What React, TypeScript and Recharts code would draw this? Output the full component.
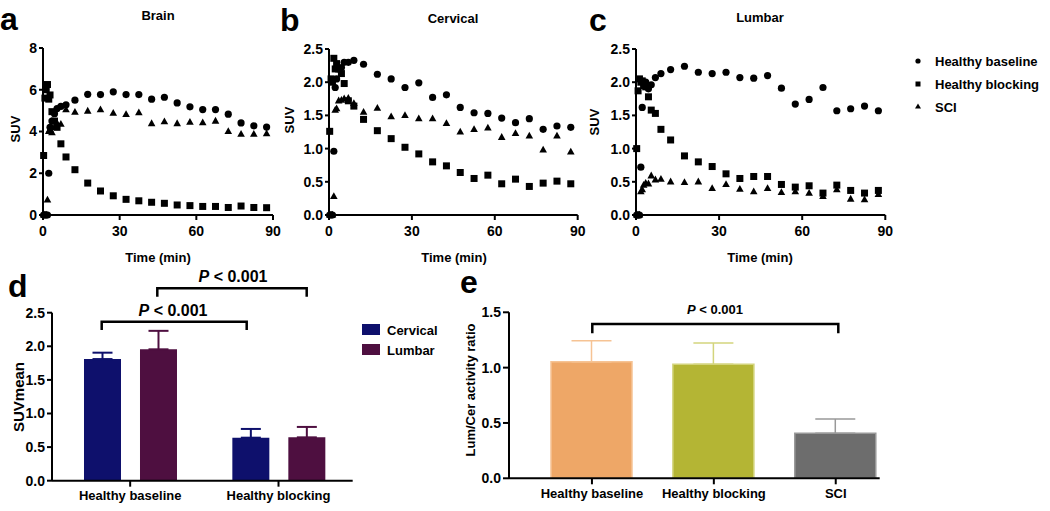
import React from "react";
import { Bar, BarChart, Cell, ErrorBar, Scatter, ScatterChart, XAxis, YAxis } from "recharts";

// Multi-panel PET figure: three time-activity scatters (a-c) and two bar summaries (d, e).

const FONT = '"Liberation Sans", Arial, Helvetica, sans-serif';

// frame mid-times (min)
const TIMES = [0.25, 0.75, 1.25, 1.75, 2.25, 2.75, 3.5, 4.5, 5.5, 7, 9, 12.5, 17.5, 22.5, 27.5, 32.5, 37.5, 42.5, 47.5, 52.5, 57.5, 62.5, 67.5, 72.5, 77.5, 82.5, 87.5];

const BRAIN_BASELINE = [0, 0, 0, 0, 2.0, 4.2, 4.5, 4.85, 5.1, 5.2, 5.28, 5.5, 5.78, 5.77, 5.9, 5.77, 5.77, 5.55, 5.64, 5.37, 5.18, 5.05, 5.05, 4.83, 4.41, 4.27, 4.21];
const BRAIN_BLOCKING = [2.85, 5.6, 6.0, 6.25, 5.55, 5.75, 4.95, 4.5, 4.2, 3.41, 2.78, 2.17, 1.53, 1.15, 0.92, 0.75, 0.68, 0.61, 0.56, 0.48, 0.45, 0.41, 0.41, 0.36, 0.43, 0.36, 0.35];
const BRAIN_SCI = [0, 0, 0, 0.72, 4.0, 4.1, 3.95, 4.2, 4.4, 4.35, 5.05, 4.93, 4.98, 5.05, 4.88, 4.82, 4.9, 4.38, 4.47, 4.38, 4.45, 4.42, 4.5, 4.0, 3.87, 3.87, 3.9];

const CERVICAL_BASELINE = [0, 0, 0, 0.96, 1.92, 2.05, 2.2, 2.22, 2.3, 2.3, 2.33, 2.27, 2.12, 2.05, 1.92, 1.99, 1.77, 1.81, 1.62, 1.54, 1.53, 1.46, 1.39, 1.45, 1.29, 1.34, 1.32];
const CERVICAL_BLOCKING = [1.26, 2.05, 2.0, 2.36, 2.2, 2.28, 2.2, 2.13, 1.98, 1.72, 1.64, 1.44, 1.27, 1.15, 1.02, 0.92, 0.8, 0.74, 0.64, 0.55, 0.6, 0.47, 0.54, 0.43, 0.48, 0.51, 0.47];
const CERVICAL_SCI = [0, 0, 0, 0.28, 1.58, 1.6, 1.72, 1.73, 1.75, 1.76, 1.68, 1.55, 1.61, 1.48, 1.5, 1.45, 1.45, 1.38, 1.25, 1.29, 1.31, 1.17, 1.23, 1.19, 0.98, 1.19, 0.95];

const LUMBAR_BASELINE = [0, 0, 0, 0.72, 1.62, 1.98, 2.0, 1.9, 1.96, 2.07, 2.13, 2.19, 2.24, 2.15, 2.13, 2.15, 2.07, 2.06, 2.1, 1.91, 1.67, 1.74, 1.92, 1.57, 1.6, 1.64, 1.57];
const LUMBAR_BLOCKING = [1.0, 1.87, 2.05, 2.0, 2.02, 1.95, 1.93, 1.78, 1.58, 1.53, 1.29, 1.13, 0.89, 0.8, 0.73, 0.62, 0.55, 0.58, 0.58, 0.46, 0.42, 0.44, 0.33, 0.45, 0.37, 0.33, 0.37];
const LUMBAR_SCI = [0, 0, 0, 0.35, 0.38, 0.45, 0.48, 0.47, 0.59, 0.53, 0.54, 0.5, 0.49, 0.5, 0.4, 0.46, 0.39, 0.35, 0.4, 0.34, 0.35, 0.33, 0.28, 0.38, 0.24, 0.23, 0.31];

const TIME_TICKS = [0, 30, 60, 90];
const BRAIN_TICKS = [0, 2, 4, 6, 8];
const SPINE_TICKS = [0, 0.5, 1, 1.5, 2, 2.5];

// panel d
const D_GROUPS = ["Healthy baseline", "Healthy blocking"];
const D_CERVICAL = [1.81, 0.64];
const D_CERVICAL_SD = [0.095, 0.13];
const D_LUMBAR = [1.955, 0.645];
const D_LUMBAR_SD = [0.275, 0.155];
const D_TICKS = [0, 0.5, 1, 1.5, 2, 2.5];

// panel e
const E_GROUPS = ["Healthy baseline", "Healthy blocking", "SCI"];
const E_RATIO = [1.053, 1.03, 0.406];
const E_SD = [0.19, 0.192, 0.13];
const E_TICKS = [0, 0.5, 1, 1.5];

const NAVY = "#0e106c";
const PLUM = "#4e0f40";
const E_FILL = ["#eea767", "#b4b534", "#6d6d6d"];
const E_EDGE = ["#f6c394", "#d3d47c", "#999999"];

const pts = (vals: number[]) => TIMES.map((t, i) => ({ t, v: vals[i] }));

const Dot = (p: any) => <circle cx={p.cx} cy={p.cy} r={3.6} fill="#000" />;
const Sq = (p: any) => <rect x={p.cx - 3.5} y={p.cy - 3.5} width={7} height={7} fill="#000" />;
const Tri = (p: any) => (
  <polygon points={`${p.cx},${p.cy - 4.2} ${p.cx - 3.8},${p.cy + 2.6} ${p.cx + 3.8},${p.cy + 2.6}`} fill="#000" />
);

const axisLine = { stroke: "#000", strokeWidth: 2 };
const tickStyle = { fill: "#000", fontSize: 14, fontWeight: 700, fontFamily: FONT };

function KineticPanel({
  plotLeft,
  plotRight,
  top,
  yMax,
  yTicks,
  fixed,
  series,
}: {
  plotLeft: number;
  plotRight: number;
  top: number;
  yMax: number;
  yTicks: number[];
  fixed: boolean;
  series: number[][];
}) {
  const yw = 46;
  const mr = 12;
  const shapes = [Dot, Sq, Tri];
  return (
    <div style={{ position: "absolute", left: plotLeft - yw, top: 0 }}>
      <ScatterChart
        width={plotRight - plotLeft + yw + mr}
        height={260}
        margin={{ top, right: mr, bottom: 15, left: 0 }}
      >
        <XAxis
          type="number"
          dataKey="t"
          domain={[0, 90]}
          ticks={TIME_TICKS}
          height={30}
          axisLine={axisLine}
          tickLine={axisLine}
          tickSize={5}
          tickMargin={6}
          tick={tickStyle}
        />
        <YAxis
          type="number"
          dataKey="v"
          domain={[0, yMax]}
          ticks={yTicks}
          width={yw}
          axisLine={axisLine}
          tickLine={axisLine}
          tickSize={4}
          tickMargin={2}
          tick={tickStyle}
          tickFormatter={(v: number) => (fixed ? v.toFixed(1) : String(v))}
        />
        {series.map((s, i) => (
          <Scatter key={i} data={pts(s)} shape={shapes[i]} isAnimationActive={false} />
        ))}
      </ScatterChart>
    </div>
  );
}

function SuvBars() {
  const data = D_GROUPS.map((g, i) => ({
    g,
    cervical: D_CERVICAL[i],
    lumbar: D_LUMBAR[i],
    cSd: [0, D_CERVICAL_SD[i]],
    lSd: [0, D_LUMBAR_SD[i]],
  }));
  const yw = 50;
  const left = 52.3 - yw;
  return (
    <div style={{ position: "absolute", left, top: 300 }}>
      <BarChart
        width={353 - left}
        height={210.7}
        data={data}
        margin={{ top: 12.7, right: 0, bottom: 0, left: 0 }}
        barSize={37}
        barGap={19}
      >
        <XAxis
          dataKey="g"
          height={30}
          interval={0}
          padding={{ left: 4, right: 0 }}
          axisLine={axisLine}
          tickLine={axisLine}
          tickSize={6}
          tickMargin={4}
          tick={{ ...tickStyle, fontSize: 13 }}
        />
        <YAxis
          type="number"
          domain={[0, 2.5]}
          ticks={D_TICKS}
          width={yw}
          axisLine={axisLine}
          tickLine={axisLine}
          tickSize={5}
          tickMargin={2}
          tick={tickStyle}
          tickFormatter={(v: number) => v.toFixed(1)}
        />
        <Bar dataKey="cervical" fill={NAVY} isAnimationActive={false}>
          <ErrorBar dataKey="cSd" width={10} stroke={NAVY} strokeWidth={2} isAnimationActive={false} />
        </Bar>
        <Bar dataKey="lumbar" fill={PLUM} isAnimationActive={false}>
          <ErrorBar dataKey="lSd" width={10} stroke={PLUM} strokeWidth={2} isAnimationActive={false} />
        </Bar>
      </BarChart>
    </div>
  );
}

function RatioBars() {
  const data = E_GROUPS.map((g, i) => ({ g, ratio: E_RATIO[i], [`err${i}`]: [0, E_SD[i]] }));
  const yw = 50;
  const left = 509.3 - yw;
  return (
    <div style={{ position: "absolute", left, top: 300 }}>
      <BarChart
        width={880 - left}
        height={208.3}
        data={data}
        margin={{ top: 12.3, right: 0, bottom: 0, left: 0 }}
        barSize={81}
      >
        <XAxis
          dataKey="g"
          height={30}
          interval={0}
          padding={{ left: 22, right: -17 }}
          axisLine={axisLine}
          tickLine={axisLine}
          tickSize={6}
          tickMargin={4}
          tick={{ ...tickStyle, fontSize: 13 }}
        />
        <YAxis
          type="number"
          domain={[0, 1.5]}
          ticks={E_TICKS}
          width={yw}
          axisLine={axisLine}
          tickLine={axisLine}
          tickSize={6}
          tickMargin={2}
          tick={tickStyle}
          tickFormatter={(v: number) => v.toFixed(1)}
        />
        <Bar dataKey="ratio" isAnimationActive={false}>
          {E_GROUPS.map((g, i) => (
            <Cell key={g} fill={E_FILL[i]} stroke={E_EDGE[i]} strokeWidth={1.5} />
          ))}
          {E_GROUPS.map((g, i) => (
            <ErrorBar
              key={g}
              dataKey={`err${i}`}
              width={20}
              stroke={E_EDGE[i]}
              strokeWidth={1.5}
              isAnimationActive={false}
            />
          ))}
        </Bar>
      </BarChart>
    </div>
  );
}

function Label({
  x,
  y,
  children,
  size = 13,
  rotate = 0,
  anchor = "middle",
}: {
  x: number;
  y: number;
  children: React.ReactNode;
  size?: number;
  rotate?: number;
  anchor?: "start" | "middle" | "end";
}) {
  return (
    <text
      x={x}
      y={y}
      fontSize={size}
      fontWeight={700}
      fontFamily={FONT}
      textAnchor={anchor}
      dominantBaseline="central"
      transform={rotate ? `rotate(${rotate} ${x} ${y})` : undefined}
    >
      {children}
    </text>
  );
}

const PValue = ({ x, y, size }: { x: number; y: number; size: number }) => (
  <Label x={x} y={y} size={size}>
    <tspan fontStyle="italic">P</tspan> {"< 0.001"}
  </Label>
);

export default function App() {
  return (
    <div
      style={{
        position: "absolute",
        left: 0,
        top: 0,
        width: 1050,
        height: 511,
        background: "#fff",
        fontFamily: FONT,
      }}
    >
      <KineticPanel
        plotLeft={43.3}
        plotRight={273.3}
        top={48}
        yMax={8}
        yTicks={BRAIN_TICKS}
        fixed={false}
        series={[BRAIN_BASELINE, BRAIN_BLOCKING, BRAIN_SCI]}
      />
      <KineticPanel
        plotLeft={329}
        plotRight={577.7}
        top={49}
        yMax={2.5}
        yTicks={SPINE_TICKS}
        fixed
        series={[CERVICAL_BASELINE, CERVICAL_BLOCKING, CERVICAL_SCI]}
      />
      <KineticPanel
        plotLeft={635.7}
        plotRight={885}
        top={49}
        yMax={2.5}
        yTicks={SPINE_TICKS}
        fixed
        series={[LUMBAR_BASELINE, LUMBAR_BLOCKING, LUMBAR_SCI]}
      />
      <SuvBars />
      <RatioBars />

      <svg
        width={1050}
        height={511}
        style={{ position: "absolute", left: 0, top: 0, pointerEvents: "none" }}
      >
        {/* panel letters */}
        {[
          ["a", 0, 30],
          ["b", 280, 31],
          ["c", 589, 31],
          ["d", 8, 297],
          ["e", 460, 293],
        ].map(([t, x, y]) => (
          <text key={t as string} x={x as number} y={y as number} fontSize={32} fontWeight={700} fontFamily={FONT}>
            {t}
          </text>
        ))}

        <Label x={158} y={15}>Brain</Label>
        <Label x={453} y={18}>Cervical</Label>
        <Label x={760} y={17}>Lumbar</Label>

        <Label x={15} y={129} rotate={-90}>SUV</Label>
        <Label x={289} y={120} rotate={-90}>SUV</Label>
        <Label x={594} y={122} rotate={-90}>SUV</Label>

        <Label x={158} y={257}>Time (min)</Label>
        <Label x={454} y={257}>Time (min)</Label>
        <Label x={760} y={257}>Time (min)</Label>

        {/* legend for a-c */}
        <circle cx={918} cy={61} r={2.6} fill="#000" />
        <rect x={915.5} y={81.5} width={5} height={5} fill="#000" />
        <polygon points="918,103.5 915,108.5 921,108.5" fill="#000" />
        <Label x={935} y={61} anchor="start">Healthy baseline</Label>
        <Label x={935} y={84} anchor="start">Healthy blocking</Label>
        <Label x={935} y={107} anchor="start">SCI</Label>

        {/* panel d annotations */}
        <Label x={18} y={397} size={15} rotate={-90}>SUVmean</Label>
        <path d="M101.7,330 V321.7 H246.7 V330" fill="none" stroke="#000" strokeWidth={2.5} />
        <path d="M157.3,296.7 V288.3 H306.7 V296.7" fill="none" stroke="#000" strokeWidth={2.5} />
        <PValue x={173} y={310} size={16} />
        <PValue x={233} y={276} size={16} />
        <rect x={362} y={324} width={18} height={11} fill={NAVY} />
        <rect x={362} y={344} width={18} height={11} fill={PLUM} />
        <Label x={387} y={330} anchor="start">Cervical</Label>
        <Label x={387} y={350} anchor="start">Lumbar</Label>

        {/* panel e annotations */}
        <Label x={470} y={390} rotate={-90}>Lum/Cer activity ratio</Label>
        <path d="M592.3,333.3 V324 H838.3 V333.3" fill="none" stroke="#000" strokeWidth={2.5} />
        <PValue x={715} y={309} size={13} />
      </svg>
    </div>
  );
}
